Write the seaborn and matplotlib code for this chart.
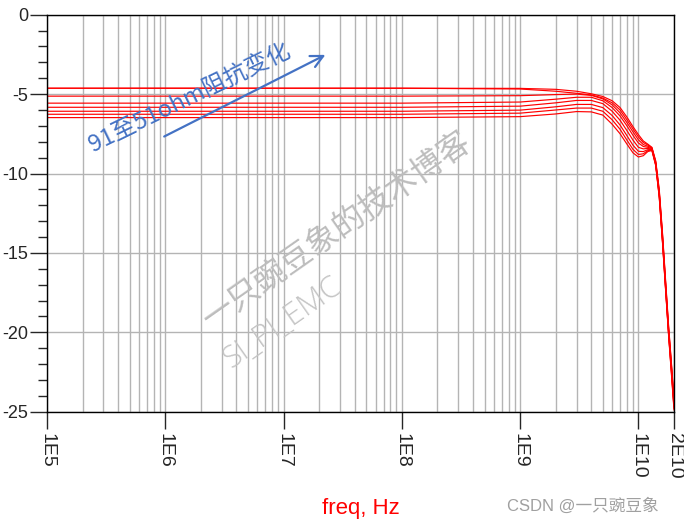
import numpy as np
import pandas as pd
import matplotlib
matplotlib.use("Agg")
import matplotlib.pyplot as plt
import seaborn as sns
from matplotlib.ticker import FixedLocator, MultipleLocator, LogLocator, NullFormatter

# frequency points (Hz)
freq = [1e5, 1e8, 1e9, 2e9, 3e9, 4e9, 5e9, 6e9, 7e9, 8e9, 9e9, 1e10,
        1.1e10, 1.2e10, 1.3e10, 1.4e10, 1.5e10, 1.6e10, 1.7e10, 1.8e10, 1.9e10, 2e10]

# insertion loss (dB) for each termination, 510 ohm on top down to 91 ohm
r510 = [-4.63, -4.63, -4.64, -4.70, -4.82, -4.98, -5.15, -5.42, -5.85, -6.45, -7.05, -7.55,
        -7.95, -8.15, -8.35, -9.20, -11.0, -13.8, -16.8, -19.6, -21.9, -24.2]
r390 = [-4.63, -4.63, -4.68, -4.82, -4.95, -5.05, -5.25, -5.55, -6.00, -6.62, -7.20, -7.70,
        -8.05, -8.20, -8.38, -9.25, -11.1, -13.9, -16.9, -19.7, -22.0, -24.3]
r300 = [-5.13, -5.13, -5.10, -5.03, -5.00, -5.08, -5.30, -5.68, -6.18, -6.80, -7.38, -7.88,
        -8.18, -8.28, -8.40, -9.30, -11.2, -14.0, -17.0, -19.8, -22.1, -24.4]
r240 = [-5.57, -5.57, -5.50, -5.32, -5.20, -5.20, -5.42, -5.85, -6.38, -7.00, -7.60, -8.08,
        -8.30, -8.35, -8.43, -9.35, -11.25, -14.1, -17.1, -19.9, -22.2, -24.5]
r200 = [-5.83, -5.83, -5.76, -5.55, -5.40, -5.40, -5.60, -6.08, -6.65, -7.30, -7.90, -8.35,
        -8.45, -8.42, -8.46, -9.38, -11.3, -14.2, -17.2, -20.0, -22.3, -24.6]
r150 = [-6.08, -6.08, -6.01, -5.80, -5.65, -5.65, -5.85, -6.35, -6.95, -7.62, -8.22, -8.60,
        -8.62, -8.50, -8.49, -9.42, -11.4, -14.3, -17.3, -20.1, -22.4, -24.7]
r120 = [-6.27, -6.27, -6.20, -6.00, -5.88, -5.88, -6.08, -6.62, -7.22, -7.90, -8.48, -8.80,
        -8.76, -8.56, -8.52, -9.46, -11.45, -14.35, -17.35, -20.15, -22.5, -24.8]
r91 = [-6.48, -6.48, -6.42, -6.25, -6.10, -6.12, -6.32, -6.90, -7.50, -8.15, -8.70, -8.96,
       -8.88, -8.62, -8.55, -9.50, -11.5, -14.4, -17.4, -20.2, -22.6, -24.9]

curve_names = ["510", "390", "300", "240", "200", "150", "120", "91"]
curve_vals = [r510, r390, r300, r240, r200, r150, r120, r91]

x_ticks = [1e5, 1e6, 1e7, 1e8, 1e9, 1e10, 2e10]
x_labels = ["1E5", "1E6", "1E7", "1E8", "1E9", "1E10", "2E10"]

df = pd.DataFrame({
    "freq": np.tile(freq, len(curve_names)),
    "loss": np.concatenate(curve_vals),
    "R": np.repeat(curve_names, len(freq)),
})

sns.set_style("white")
plt.rcParams["font.family"] = ["Liberation Sans", "Noto Sans CJK SC", "DejaVu Sans"]
plt.rcParams["axes.unicode_minus"] = False

fig = plt.figure(figsize=(6.84, 5.23), dpi=100)
ax = fig.add_axes([0.0687, 0.2128, 0.9167, 0.7591])

sns.lineplot(data=df, x="freq", y="loss", hue="R", palette=["#ff0000"] * len(curve_names),
             estimator=None, legend=False, linewidth=0.85, ax=ax)

ax.set_xscale("log")
ax.set_xlim(1e5, 2e10)
ax.set_ylim(-25, 0)

# ticks
ax.xaxis.set_major_locator(FixedLocator(x_ticks))
ax.set_xticklabels(x_labels)
ax.xaxis.set_minor_locator(LogLocator(base=10, subs=np.arange(2, 10)))
ax.xaxis.set_minor_formatter(NullFormatter())
ax.yaxis.set_major_locator(MultipleLocator(5))
ax.yaxis.set_minor_locator(MultipleLocator(1))

ax.tick_params(axis="x", which="major", direction="out", length=12, width=1, pad=3,
               labelsize=14, labelrotation=-90, bottom=True)
ax.tick_params(axis="x", which="minor", length=0)
ax.tick_params(axis="y", which="major", direction="out", length=12, width=1, pad=1.5,
               labelsize=13, left=True)
ax.tick_params(axis="y", which="minor", direction="out", length=6.5, width=1, left=True)
for lbl in ax.get_xticklabels():
    lbl.set_va("top")
    lbl.set_ha("center")

ax.grid(True, axis="x", which="both", color="#b4b4b4", linewidth=1.0)
ax.grid(True, axis="y", which="major", color="#b4b4b4", linewidth=1.0)
ax.set_axisbelow(True)
for sp in ax.spines.values():
    sp.set_color("black")
    sp.set_linewidth(1.0)

ax.set_xlabel("")
ax.set_ylabel("")

# arrow and annotation
ax.annotate("", xy=(0.448, 0.902), xytext=(0.183, 0.690), xycoords="axes fraction",
            arrowprops=dict(arrowstyle="->", color="#4472c4", lw=1.6, mutation_scale=22))
ax.text(0.228, 0.792, "91至51ohm阻抗变化", transform=ax.transAxes, rotation=26,
        color="#4472c4", fontsize=17, ha="center", va="center",
        family=["Noto Sans CJK SC", "DejaVu Sans"])

# watermark
ax.text(0.4625, 0.4577, "一只豌豆象的技术博客", transform=ax.transAxes, rotation=35,
        color="#bdbdbd", fontsize=23, ha="center", va="center",
        family=["Noto Sans CJK SC", "DejaVu Sans"])
ax.text(0.376, 0.225, "SI_PI_EMC", transform=ax.transAxes, rotation=35,
        color="#c4c4c4", fontsize=22, ha="center", va="center", fontweight="light",
        family=["Open Sans", "DejaVu Sans"])

fig.text(0.527, 0.027, "freq, Hz", color="#ff0000", fontsize=16, ha="center", va="center")
fig.text(0.852, 0.034, "CSDN @一只豌豆象", color="#a0a0a0", fontsize=12, ha="center", va="center",
         family=["Liberation Sans", "Noto Sans CJK SC"])

fig.savefig("out.png", dpi=100)
